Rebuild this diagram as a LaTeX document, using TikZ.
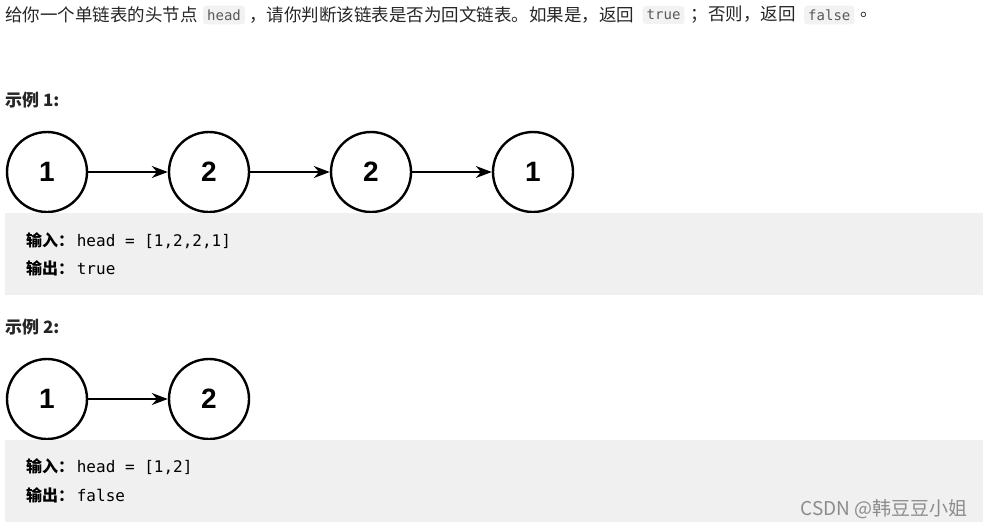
\documentclass[tikz,border=0pt]{standalone}
\usepackage{fontspec}
\setmainfont{Noto Sans CJK SC}
\setmonofont{DejaVu Sans Mono}
\newfontfamily\numf{Liberation Sans}
\usetikzlibrary{arrows.meta}
\begin{document}
\begin{tikzpicture}[x=1pt,y=-1pt,
  lnode/.style={circle,draw,line width=2.4pt,minimum size=80pt,inner sep=0pt,font=\numf\bfseries\fontsize{28}{28}\selectfont},
  arr/.style={-{Stealth[length=16pt,width=12pt]},line width=1.6pt},
  chip/.style={fill=black!5,rounded corners=3pt,inner sep=4pt,font=\ttfamily\fontsize{14}{14}\selectfont,text=black!65},
  box/.style={fill=black!6,draw=none},
  txt/.style={anchor=west,inner sep=0pt,font=\fontsize{17.5}{17.5}\selectfont,text=black!85},
  code/.style={anchor=west,inner sep=0pt,font=\fontsize{16}{18}\selectfont}]
\useasboundingbox[fill=white] (0,0) rectangle (983,528);
\node[txt] (t1) at (5,15) {给你一个单链表的头节点};
\node[chip,anchor=west] (c1) at (203,15) {head};
\node[txt,anchor=west] (t2) at ([xshift=4pt]c1.east) {，请你判断该链表是否为回文链表。如果是，返回};
\node[chip,anchor=west] (c2) at ([xshift=8pt]t2.east) {true};
\node[txt,anchor=west] (t3) at ([xshift=6pt]c2.east) {；否则，返回};
\node[chip,anchor=west] (c3) at ([xshift=8pt]t3.east) {false};
\node[txt,anchor=west] (t4) at ([xshift=6pt]c3.east) {。};

\node[txt,font=\bfseries\fontsize{17}{17}\selectfont] (e1) at (5,100) {示例 1:};
\node[lnode] (a1) at (47,172) {1};
\node[lnode] (a2) at (209,172) {2};
\node[lnode] (a3) at (371,172) {2};
\node[lnode] (a4) at (533,172) {1};
\draw[arr] (a1) -- (a2);
\draw[arr] (a2) -- (a3);
\draw[arr] (a3) -- (a4);
\path[box] (5,213) rectangle (983,295);
\node[code] (i1) at (26,241) {{\bfseries 输入：}\,\ttfamily head = [1,2,2,1]};
\node[code] (o1) at (26,268) {{\bfseries 输出：}\,\ttfamily true};

\node[txt,font=\bfseries\fontsize{17}{17}\selectfont] (e2) at (5,327) {示例 2:};
\node[lnode] (b1) at (47,399) {1};
\node[lnode] (b2) at (209,399) {2};
\draw[arr] (b1) -- (b2);
\path[box] (5,440) rectangle (983,522);
\node[code] (i2) at (26,467) {{\bfseries 输入：}\,\ttfamily head = [1,2]};
\node[code] (o2) at (26,495) {{\bfseries 输出：}\,\ttfamily false};
\node[anchor=east,inner sep=0pt,text=black!45,font=\fontsize{19}{19}\selectfont] (wm) at (968,509) {CSDN @韩豆豆小姐};
\end{tikzpicture}
\end{document}
